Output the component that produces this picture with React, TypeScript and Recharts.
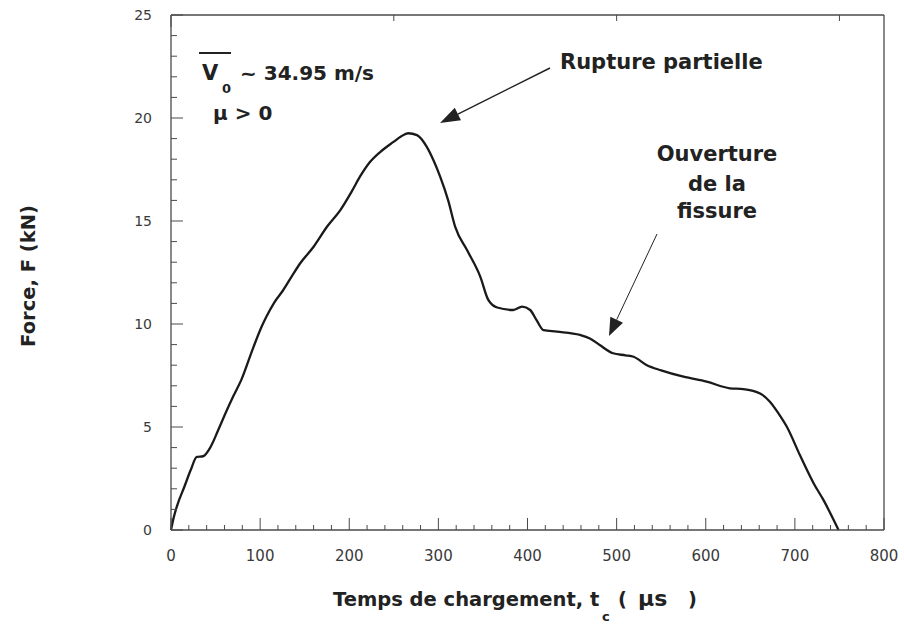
import { LineChart, Line, XAxis, YAxis } from 'recharts';

// loading time (µs) and force (kN)
const TIME_US = [
  0, 3, 7, 15, 22, 29, 36, 44, 53, 62, 70, 79, 92, 102, 107, 116, 126, 136, 145, 160,
  175, 190, 203, 212, 223, 235, 250, 258, 266, 276, 287, 295, 302, 311, 319, 332, 347,
  356, 366, 384, 394, 403, 410, 418, 433, 459, 470, 481, 496, 510, 519, 534, 550, 575,
  601, 627, 642, 661, 672, 681, 691, 706, 721, 732, 749,
];
const FORCE_KN = [
  0, 0.6, 1.2, 2.1, 2.9, 3.55, 3.58, 4.0, 4.85, 5.75, 6.5, 7.3, 8.82, 9.9, 10.35, 11.05,
  11.65, 12.35, 12.95, 13.75, 14.72, 15.53, 16.45, 17.15, 17.85, 18.36, 18.85, 19.1, 19.26,
  19.17, 18.6, 17.9, 17.15, 16.0, 14.7, 13.6, 12.3, 11.17, 10.8, 10.68, 10.84, 10.68, 10.2,
  9.7, 9.63, 9.47, 9.3, 8.98, 8.58, 8.48, 8.41, 8.0, 7.75, 7.44, 7.2, 6.88, 6.84, 6.63,
  6.23, 5.7, 5.01, 3.6, 2.27, 1.46, 0,
];

const X_TICKS = Array.from({ length: 41 }, (_, i) => i * 20);
const Y_TICKS = Array.from({ length: 26 }, (_, i) => i);

const data = TIME_US.map((t, i) => ({ t, f: FORCE_KN[i] }));

const FONT = '"DejaVu Sans", "Liberation Sans", Arial, sans-serif';
const AXIS = '#4a4a4a';
const LABEL = '#3a3a3a';

function BottomTick({ x, y, payload }: any) {
  const v = payload.value;
  const major = v % 100 === 0;
  return (
    <g>
      <line x1={x} x2={x} y1={y} y2={y - (major ? 12 : 5)} stroke={AXIS} strokeWidth={1} />
      {major && (
        <text x={x} y={y + 31} textAnchor="middle" fontSize={15} fill={LABEL} fontFamily={FONT}>
          {v}
        </text>
      )}
    </g>
  );
}

function TopTick({ x, y, payload }: any) {
  const major = payload.value % 100 === 0;
  return <line x1={x} x2={x} y1={y} y2={y + (major ? 12 : 6)} stroke={AXIS} strokeWidth={1} />;
}

function LeftTick({ x, y, payload }: any) {
  const v = payload.value;
  const major = v % 5 === 0;
  return (
    <g>
      <line x1={x} x2={x + (major ? 12 : 6)} y1={y} y2={y} stroke={AXIS} strokeWidth={1} />
      {major && (
        <text x={x - 19} y={y + 5} textAnchor="end" fontSize={14} fill={LABEL} fontFamily={FONT}>
          {v}
        </text>
      )}
    </g>
  );
}

function RightTick({ x, y, payload }: any) {
  const major = payload.value % 5 === 0;
  return <line x1={x} x2={x - (major ? 12 : 6)} y1={y} y2={y} stroke={AXIS} strokeWidth={1} />;
}

function Arrow({ x1, y1, x2, y2, w, len, half }: any) {
  const dx = x2 - x1;
  const dy = y2 - y1;
  const d = Math.hypot(dx, dy);
  const ux = dx / d;
  const uy = dy / d;
  const bx = x2 - ux * len;
  const by = y2 - uy * len;
  return (
    <g>
      <line x1={x1} y1={y1} x2={bx} y2={by} stroke="#222" strokeWidth={w} />
      <polygon
        points={`${x2},${y2} ${bx - uy * half},${by + ux * half} ${bx + uy * half},${by - ux * half}`}
        fill="#222"
      />
    </g>
  );
}

export default function App() {
  const bold = { fontFamily: FONT, fontWeight: 700, fill: '#222' } as const;
  return (
    <div style={{ position: 'absolute', left: 0, top: 0, width: 904, height: 627, background: '#fff' }}>
      <LineChart width={904} height={627} data={data} margin={{ top: 14, right: 19, bottom: 67, left: 131 }}>
        <XAxis
          dataKey="t"
          type="number"
          domain={[0, 800]}
          ticks={X_TICKS}
          interval={0}
          height={30}
          tickSize={0}
          tickMargin={0}
          tickLine={false}
          axisLine={{ stroke: AXIS, strokeWidth: 1.3 }}
          tick={(p: any) => <BottomTick {...p} />}
        />
        <XAxis
          xAxisId="top"
          orientation="top"
          type="number"
          domain={[0, 800]}
          ticks={X_TICKS}
          interval={0}
          height={1}
          tickSize={0}
          tickMargin={0}
          tickLine={false}
          axisLine={{ stroke: AXIS, strokeWidth: 1.3 }}
          tick={(p: any) => <TopTick {...p} />}
        />
        <YAxis
          type="number"
          domain={[0, 25]}
          ticks={Y_TICKS}
          interval={0}
          width={40}
          tickSize={0}
          tickMargin={0}
          tickLine={false}
          axisLine={{ stroke: AXIS, strokeWidth: 1.3 }}
          tick={(p: any) => <LeftTick {...p} />}
        />
        <YAxis
          yAxisId="right"
          orientation="right"
          type="number"
          domain={[0, 25]}
          ticks={Y_TICKS}
          interval={0}
          width={1}
          tickSize={0}
          tickMargin={0}
          tickLine={false}
          axisLine={{ stroke: AXIS, strokeWidth: 1.3 }}
          tick={(p: any) => <RightTick {...p} />}
        />
        <Line
          dataKey="f"
          type="monotone"
          stroke="#1a1a1a"
          strokeWidth={2.3}
          dot={false}
          isAnimationActive={false}
        />
      </LineChart>

      <svg
        width={904}
        height={627}
        style={{ position: 'absolute', left: 0, top: 0, pointerEvents: 'none' }}
      >
        {/* impact speed and friction note */}
        <line x1={199} x2={231} y1={53} y2={53} stroke="#222" strokeWidth={2} />
        <text x={202} y={80} fontSize={21} {...bold}>V</text>
        <text x={222} y={93} fontSize={13} {...bold}>0</text>
        <text x={240} y={80} fontSize={20} {...bold}>~ 34.95 m/s</text>
        <text x={213} y={120} fontSize={20} {...bold}>μ &gt; 0</text>

        {/* annotations */}
        <text x={560} y={69} fontSize={21} {...bold}>Rupture partielle</text>
        <Arrow x1={550} y1={68} x2={440} y2={123} w={1.5} len={20} half={7} />

        <text x={717} y={161} fontSize={21} textAnchor="middle" {...bold}>Ouverture</text>
        <text x={717} y={191} fontSize={21} textAnchor="middle" {...bold}>de la</text>
        <text x={717} y={218} fontSize={21} textAnchor="middle" {...bold}>fissure</text>
        <Arrow x1={657} y1={234} x2={609} y2={336} w={1} len={18} half={7} />

        {/* axis titles */}
        <text transform="translate(35 276) rotate(-90)" x={0} y={0} fontSize={19.5} textAnchor="middle" {...bold}>
          Force, F (kN)
        </text>
        <text x={333} y={606} fontSize={19.5} {...bold}>Temps de chargement, t</text>
        <text x={602} y={621} fontSize={13} {...bold}>c</text>
        <text x={618} y={606} fontSize={19.5} {...bold}>(</text>
        <text x={638} y={606} fontSize={22} {...bold}>μs</text>
        <text x={688} y={606} fontSize={19.5} {...bold}>)</text>
      </svg>
    </div>
  );
}
